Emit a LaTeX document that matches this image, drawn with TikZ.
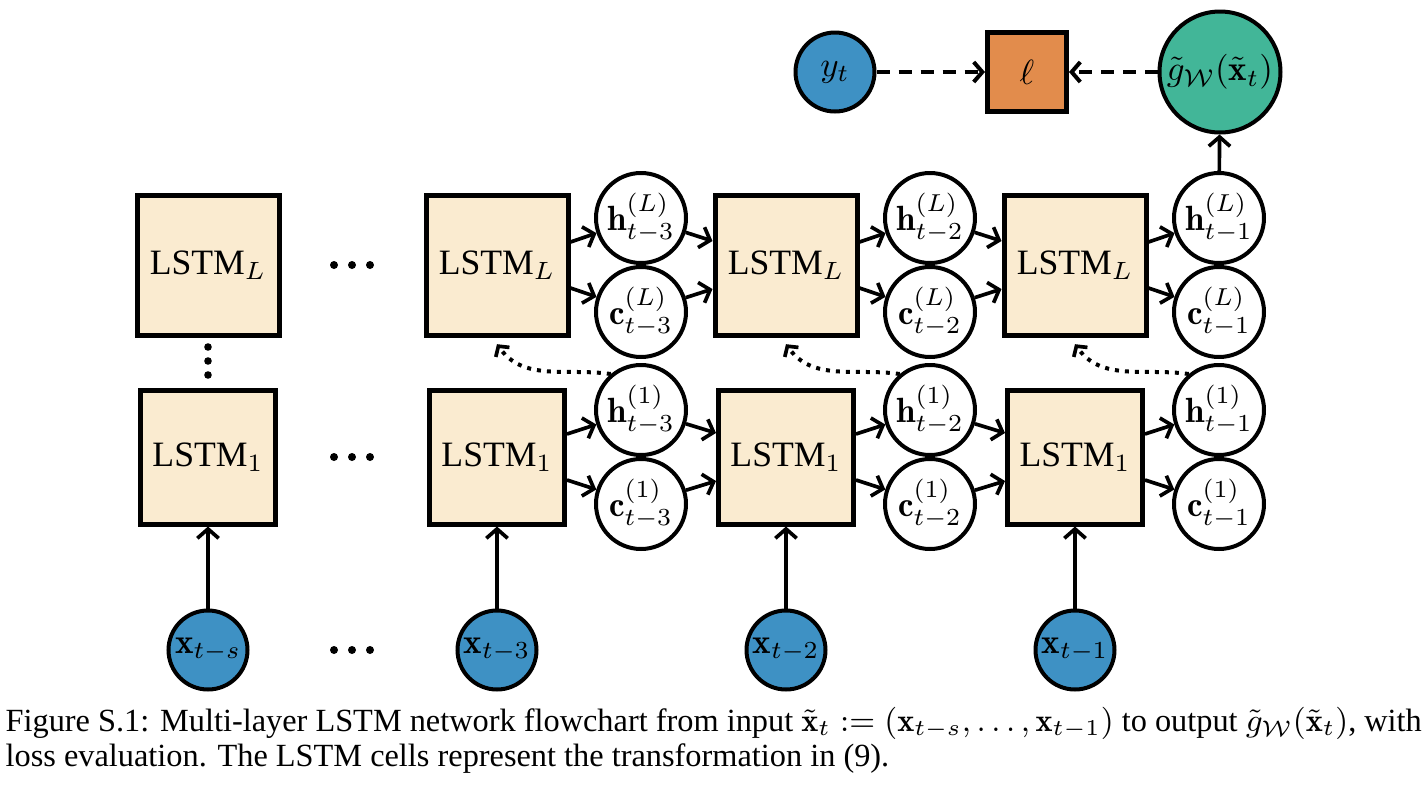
\RequirePackage{fix-cm}
\documentclass[tikz,border=0pt]{standalone}
\usepackage{amsmath}
\usepackage{fontspec}
\newfontfamily\capfont{Liberation Serif}
\usetikzlibrary{arrows.meta}
\definecolor{boxfill}{RGB}{250,235,208}
\definecolor{blueC}{RGB}{62,145,196}
\definecolor{orangeC}{RGB}{226,140,76}
\definecolor{greenC}{RGB}{66,182,152}
\tikzset{
  lstmtop/.style={draw, line width=1.5pt, fill=boxfill, minimum width=42.6pt, minimum height=42pt, inner sep=0pt, font=\capfont\fontsize{10.7}{12.6}\selectfont},
  lstmbot/.style={draw, line width=1.5pt, fill=boxfill, minimum width=40.5pt, minimum height=40.2pt, inner sep=0pt, font=\capfont\fontsize{10.7}{12.6}\selectfont},
  statenode/.style={circle, draw, line width=1.2pt, fill=white, minimum size=27pt, inner sep=0pt},
  inpnode/.style={circle, draw, line width=1.2pt, fill=blueC, minimum size=23.7pt, inner sep=0pt},
  arr/.style={line width=1.1pt, -{Straight Barb[length=2.8pt,width=6.4pt,line width=1.1pt]}},
  dasharr/.style={line width=1.2pt, dash pattern=on 3.9pt off 2.7pt, -{Straight Barb[length=2.6pt,width=6pt,line width=1.2pt]}},
  dotarr/.style={line width=1.2pt, dash pattern=on 1.2pt off 1.8pt, -{Straight Barb[length=2.2pt,width=5pt,line width=1.1pt]}},
}
\begin{document}
\begin{tikzpicture}[x=0.3pt,y=0.3pt,font=\fontsize{10.5}{12.6}\selectfont]
\useasboundingbox (0,0) rectangle (1426,-789);

% columns
\foreach \i/\X/\lab in {1/208/t-s, 2/497/t-3, 3/786/t-2, 4/1075/t-1} {
  \node[lstmtop] (L\i) at (\X,-265) {LSTM$_L$};
  \node[lstmbot] (O\i) at (\X,-457) {LSTM$_1$};
  \node[inpnode] (x\i) at (\X,-650) {$\mathbf{x}_{\lab}$};
  \draw[arr] (x\i) -- (O\i);
}

% state circles
\foreach \i/\X/\lab in {2/641/t-3, 3/930/t-2, 4/1219/t-1} {
  \node[statenode] (hL\i) at (\X,-218) {$\mathbf{h}^{(L)}_{\lab}$};
  \node[statenode] (cL\i) at (\X,-312) {$\mathbf{c}^{(L)}_{\lab}$};
  \node[statenode] (hO\i) at (\X,-410) {$\mathbf{h}^{(1)}_{\lab}$};
  \node[statenode] (cO\i) at (\X,-504) {$\mathbf{c}^{(1)}_{\lab}$};
  \draw[arr] ([yshift=6.9pt]L\i.east) -- (hL\i);
  \draw[arr] ([yshift=-6.9pt]L\i.east) -- (cL\i);
  \draw[arr] ([yshift=6.9pt]O\i.east) -- (hO\i);
  \draw[arr] ([yshift=-6.9pt]O\i.east) -- (cO\i);
  \draw[dotarr] (hO\i.130) to[out=172,in=-55] ([yshift=-2pt]L\i.south);
}
\foreach \i/\j in {2/3, 3/4} {
  \draw[arr] (hL\i) -- ([yshift=7.2pt]L\j.west);
  \draw[arr] (cL\i) -- ([yshift=-7.2pt]L\j.west);
  \draw[arr] (hO\i) -- ([yshift=7.2pt]O\j.west);
  \draw[arr] (cO\i) -- ([yshift=-7.2pt]O\j.west);
}

% dots
\foreach \yy in {-265,-457,-650} {
  \foreach \xx in {334,352,370} { \fill (\xx,\yy) circle (4); }
}
\foreach \yy in {-347,-361,-375} { \fill (208,\yy) circle (3.8); }

% top: loss
\node[circle, draw, line width=1.2pt, fill=blueC, minimum size=23.7pt, inner sep=0pt] (y) at (835,-72) {$y_t$};
\node[draw, line width=1.5pt, fill=orangeC, minimum size=23.7pt, inner sep=0pt] (loss) at (1027,-72) {$\ell$};
\node[circle, draw, line width=1.2pt, fill=greenC, minimum size=36.3pt, inner sep=0pt] (g) at (1220,-72) {$\tilde{g}_{\mathcal{W}}(\tilde{\mathbf{x}}_t)$};
\draw[dasharr] (y) -- (loss);
\draw[dasharr] (g) -- (loss);
\draw[arr] (hL4) -- (g);

% caption
\node[anchor=north west, align=left, inner sep=0pt, font=\capfont\fontsize{9.7}{10.5}\selectfont] (cap) at (5,-707)
 {Figure S.1: Multi-layer LSTM network flowchart from input $\tilde{\mathbf{x}}_t := (\mathbf{x}_{t-s}, \ldots, \mathbf{x}_{t-1})$ to output $\tilde{g}_{\mathcal{W}}(\tilde{\mathbf{x}}_t)$, with\\
 loss evaluation. The LSTM cells represent the transformation in (9).};
\end{tikzpicture}
\end{document}
